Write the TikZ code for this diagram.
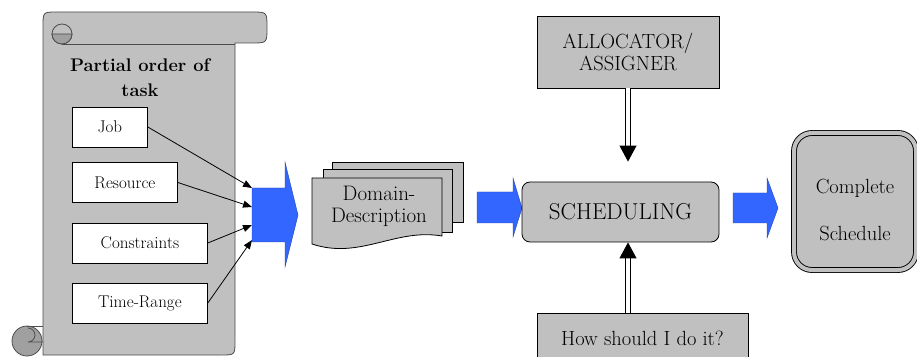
\documentclass[tikz,border=0pt]{standalone}
\usepackage{fontspec}
\usetikzlibrary{arrows.meta}
\definecolor{boxgray}{HTML}{C0C0C0}
\definecolor{curlgray}{HTML}{A0A0A0}
\definecolor{flowblue}{HTML}{3366FF}

\begin{document}
\begin{tikzpicture}[x=1pt, y=1pt, line width=0.8pt,
  item/.style={draw, fill=white, minimum height=40pt, anchor=west, font=\fontsize{17}{19}\selectfont},
  graybox/.style={draw, fill=boxgray, align=center, font=\fontsize{20.5}{22}\selectfont},
  feed/.style={-{Triangle[length=9pt,width=7pt]}},
  dbl/.style={double, double distance=4pt, line width=0.9pt},
  blockarrow/.style={fill=flowblue, draw=flowblue!70!black, line width=0.4pt}]

\clip (0,0) rectangle (917,356);

% scroll
\filldraw[fill=boxgray, draw=black!70] (43,1) -- (43,330) .. controls (43,344) .. (57,344)
  -- (252,344) .. controls (267,344) .. (267,328.5) .. controls (267,313) .. (252,313)
  -- (235,313) -- (235,15) .. controls (235,1) .. (221,1) -- cycle;
\draw[black!70] (62,312) -- (235,312);
\filldraw[fill=boxgray, draw=black!70] (62,322) circle (10);
\filldraw[fill=curlgray, draw=black!70] (72,322) arc[start angle=0, end angle=-180, radius=10] -- cycle;
\filldraw[fill=curlgray, draw=black!70] (27,15) circle (15);
\draw[black!70] (27,30) -- (43,30);
\draw[black!70] (28,28) arc[start angle=90, end angle=-90, radius=7] -- (43,14);

\node[font=\bfseries\fontsize{18.3}{25}\selectfont, align=center] (title) at (140,278) {Partial order of\\task};

\node[item, minimum width=75pt] (job) at (72,229) {Job};
\node[item, minimum width=105pt] (resource) at (72,173.5) {Resource};
\node[item, minimum width=135pt] (constraints) at (72,113) {Constraints};
\node[item, minimum width=135pt] (timerange) at (72,53) {Time-Range};

% first block arrow
\filldraw[blockarrow] (252,168) -- (285,168) -- (285,194) -- (298,141) -- (285,89)
  -- (285,114) -- (252,114) -- cycle;
\coordinate (in1) at (252,168);
\coordinate (in2) at (252,149);
\coordinate (in3) at (252,131);
\coordinate (in4) at (252,116);

\draw[feed] (job.east) -- (in1);
\draw[feed] (resource.east) -- (in2);
\draw[feed] (constraints.east) -- (in3);
\draw[feed] (timerange.east) -- (in4);

% domain description
\filldraw[fill=boxgray] (332,134) rectangle (463,194);
\filldraw[fill=boxgray] (323,124) rectangle (452,187);
\filldraw[fill=boxgray] (312,178) -- (442,178) -- (442,120)
  .. controls (395,128) and (360,96) .. (312,112) -- cycle;
\node[font=\fontsize{21}{22}\selectfont, align=center] (domain) at (379,150) {Domain-\\Description};

\filldraw[blockarrow] (477,164) -- (513,164) -- (513,178) -- (522,148) -- (513,119)
  -- (513,133) -- (477,133) -- cycle;

% scheduling
\node[graybox, rounded corners=8pt, minimum width=197pt, minimum height=60pt,
  font=\fontsize{23}{24}\selectfont] (sched) at (620.5,144) {SCHEDULING};
\node[graybox, minimum width=182pt, minimum height=72pt] (alloc) at (628,304) {ALLOCATOR/\\ASSIGNER};
\node[graybox, minimum width=211pt, minimum height=50pt] (how) at (642.5,18) {How should I do it?};

\draw[dbl, shorten >=20pt, -{Triangle[length=16pt,width=17pt]}] (alloc.south) -- (alloc.south |- sched.north);
\draw[dbl, -{Triangle[length=16pt,width=17pt]}] (how.north -| alloc.south) -- (alloc.south |- sched.south);

\filldraw[blockarrow] (733,163) -- (767,163) -- (767,178) -- (778,148) -- (767,118)
  -- (767,133) -- (733,133) -- cycle;

\node[graybox, dbl, double=boxgray, rounded corners=18pt, minimum width=122pt,
  minimum height=137pt] (done) at (855,154.5) {};
\node[font=\fontsize{20.5}{22}\selectfont, align=center] (donetext) at ([yshift=-8pt]done.center) {Complete\\[25pt]Schedule};

\end{tikzpicture}
\end{document}
